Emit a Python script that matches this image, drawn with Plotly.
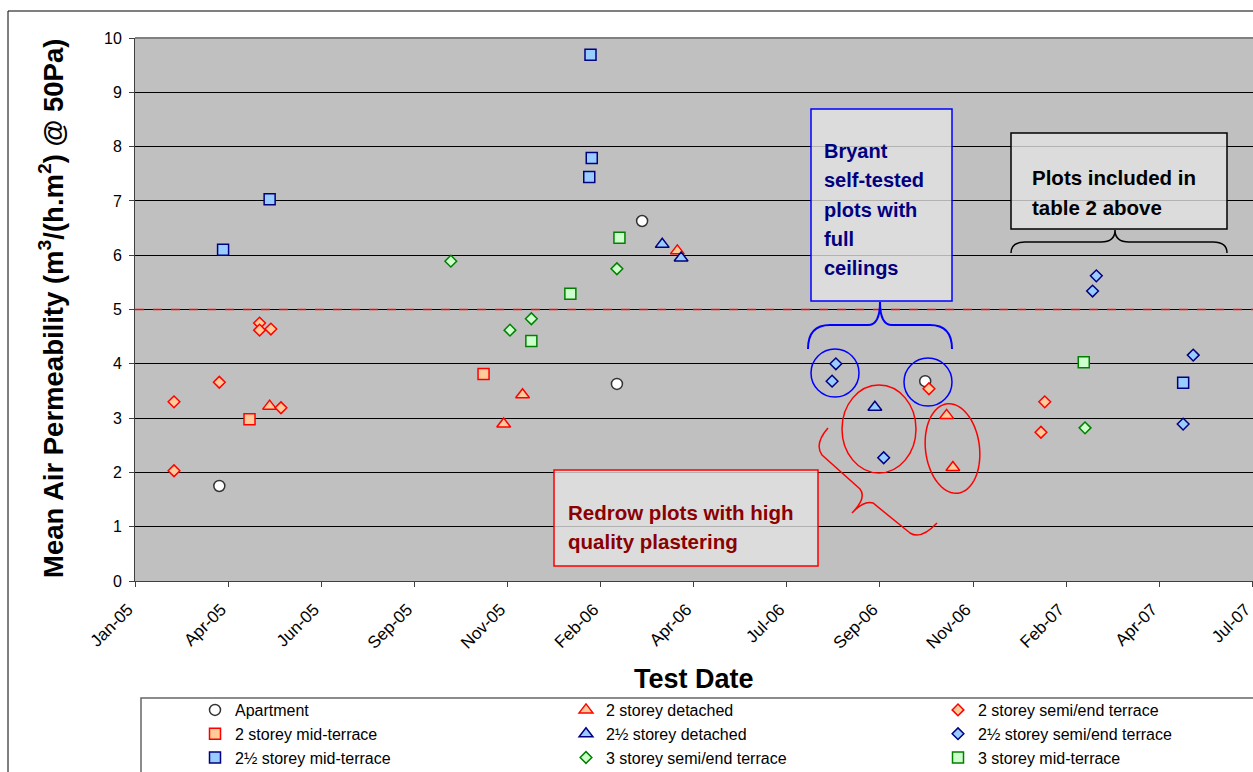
import numpy as np
import pandas as pd
import plotly.graph_objects as go

# ---------------- data ----------------
apartment_dates = ["2005-04-06", "2006-03-08", "2006-02-16", "2006-10-19"]
apartment_vals = [1.75, 6.63, 3.63, 3.68]

det2_dates = ["2005-05-16", "2006-04-05", "2005-12-03", "2005-11-18", "2006-11-05", "2006-11-10"]
det2_vals = [3.22, 6.08, 3.43, 2.89, 3.05, 2.09]

semi2_dates = ["2005-03-01", "2005-03-01", "2005-04-06", "2005-05-08", "2005-05-08",
               "2005-05-17", "2005-05-25", "2006-10-22", "2007-01-22", "2007-01-19"]
semi2_vals = [3.30, 2.03, 3.66, 4.75, 4.62, 4.64, 3.19, 3.54, 3.30, 2.74]

mid2_dates = ["2005-04-30", "2005-11-02"]
mid2_vals = [2.98, 3.81]

det25_dates = ["2006-03-24", "2006-04-08", "2006-09-09"]
det25_vals = [6.20, 5.95, 3.20]

semi25_dates = ["2006-08-09", "2006-08-06", "2006-09-16", "2007-03-04", "2007-03-01",
                "2007-05-20", "2007-05-12"]
semi25_vals = [4.00, 3.68, 2.27, 5.62, 5.34, 4.16, 2.89]

mid25_dates = ["2005-04-09", "2005-05-16", "2006-01-26", "2006-01-27", "2006-01-25", "2007-05-12"]
mid25_vals = [6.10, 7.03, 9.69, 7.79, 7.44, 3.65]

semi3_dates = ["2005-10-07", "2006-02-16", "2005-12-10", "2005-11-23", "2007-02-23"]
semi3_vals = [5.89, 5.75, 4.83, 4.62, 2.82]

mid3_dates = ["2006-02-18", "2006-01-10", "2005-12-10", "2007-02-22"]
mid3_vals = [6.32, 5.29, 4.42, 4.03]

threshold = 5

x_axis_start = "2005-01-29"
x_tick_step_days = 74
x_tick_count = 13

y_ticks = list(range(0, 11))

# ---------------- layout geometry (screen pixels) ----------------
FIG_W, FIG_H = 1253, 772
PLOT_L, PLOT_T, PLOT_B = 135, 38, 581
M_L, M_R, M_T = PLOT_L, 0, PLOT_T
M_B = FIG_H - PLOT_B
PW = FIG_W - M_L - M_R
PH = FIG_H - M_T - M_B


def px(x):
    return (x - PLOT_L) / PW


def py(y):
    return (PLOT_B - y) / PH


def P(x, y):
    return f"{px(x):.5f},{py(y):.5f}"


FONT = "Liberation Sans, Arial, sans-serif"

RED_FILL, RED_LINE = "#FFCC99", "#FF0000"
BLUE_FILL, BLUE_LINE = "#99CCFF", "#000080"
GREEN_FILL, GREEN_LINE = "#CCFFCC", "#008000"

series = [
    ("Apartment", apartment_dates, apartment_vals, "circle", 11, "#FFFFFF", "#333333", "legend"),
    ("2 storey mid-terrace", mid2_dates, mid2_vals, "square", 11, RED_FILL, RED_LINE, "legend"),
    ("2½ storey mid-terrace", mid25_dates, mid25_vals, "square", 11, BLUE_FILL, BLUE_LINE, "legend"),
    ("2 storey detached", det2_dates, det2_vals, "triangle-up", 12, RED_FILL, RED_LINE, "legend2"),
    ("2½ storey detached", det25_dates, det25_vals, "triangle-up", 12, BLUE_FILL, BLUE_LINE, "legend2"),
    ("3 storey semi/end terrace", semi3_dates, semi3_vals, "diamond", 9, GREEN_FILL, GREEN_LINE, "legend2"),
    ("2 storey semi/end terrace", semi2_dates, semi2_vals, "diamond", 9, RED_FILL, RED_LINE, "legend3"),
    ("2½ storey semi/end terrace", semi25_dates, semi25_vals, "diamond", 9, BLUE_FILL, BLUE_LINE, "legend3"),
    ("3 storey mid-terrace", mid3_dates, mid3_vals, "square", 11, GREEN_FILL, GREEN_LINE, "legend3"),
]

fig = go.Figure()
for name, xs, ys, sym, size, fill, line, leg in series:
    fig.add_trace(go.Scatter(
        x=pd.to_datetime(xs), y=ys, mode="markers", name=name, legend=leg,
        marker=dict(symbol=sym, size=size, color=fill, line=dict(color=line, width=1.5)),
    ))

x_start = pd.Timestamp(x_axis_start)
x_ticks = [x_start + pd.Timedelta(days=x_tick_step_days * k) for k in range(x_tick_count)]
x_end = x_ticks[-1] + pd.Timedelta(hours=12)

shapes = []
# outer chart border
shapes.append(dict(type="rect", xref="paper", yref="paper", x0=px(8), y0=py(11), x1=px(1300), y1=py(820),
                   line=dict(color="black", width=1), fillcolor="rgba(0,0,0,0)", layer="below"))
# legend box
shapes.append(dict(type="rect", xref="paper", yref="paper", x0=px(141), y0=py(698), x1=px(1300), y1=py(820),
                   line=dict(color="#666666", width=1.5), fillcolor="rgba(0,0,0,0)"))
# plot top border
shapes.append(dict(type="line", xref="paper", yref="paper", x0=0, x1=1, y0=1, y1=1,
                   line=dict(color="#808080", width=2)))
# threshold line
shapes.append(dict(type="line", xref="paper", yref="y", x0=0, x1=1, y0=threshold, y1=threshold,
                   line=dict(color="#FF0000", width=1.5, dash="dash")))

BOX_FILL = "rgba(228,228,228,0.78)"
# Bryant box
shapes.append(dict(type="rect", xref="paper", yref="paper", x0=px(811), x1=px(952), y0=py(109), y1=py(301),
                   line=dict(color="#0000FF", width=1.5), fillcolor=BOX_FILL))
# Redrow box
shapes.append(dict(type="rect", xref="paper", yref="paper", x0=px(554), x1=px(818), y0=py(470), y1=py(566),
                   line=dict(color="#FF0000", width=1.5), fillcolor=BOX_FILL))
# Table 2 box
shapes.append(dict(type="rect", xref="paper", yref="paper", x0=px(1011), x1=px(1227), y0=py(133), y1=py(229),
                   line=dict(color="#000000", width=1.5), fillcolor=BOX_FILL))

# braces
blue_brace = (f"M {P(808,349)} Q {P(808,325)} {P(830,325)} L {P(868,325)} Q {P(880,325)} {P(880,302)} "
              f"Q {P(880,325)} {P(892,325)} L {P(930,325)} Q {P(952,325)} {P(952,349)}")
shapes.append(dict(type="path", xref="paper", yref="paper", path=blue_brace,
                   line=dict(color="#0000FF", width=2)))
black_brace = (f"M {P(1011,253)} Q {P(1011,242)} {P(1025,242)} L {P(1101,242)} Q {P(1115,242)} {P(1115,230)} "
               f"Q {P(1115,242)} {P(1129,242)} L {P(1213,242)} Q {P(1227,242)} {P(1227,253)}")
shapes.append(dict(type="path", xref="paper", yref="paper", path=black_brace,
                   line=dict(color="#000000", width=1.5)))
red_brace = (f"M {P(828,428)} Q {P(814,444)} {P(822,455)} L {P(860,489)} Q {P(867,498)} {P(852,513)} "
             f"Q {P(864,500)} {P(873,503)} L {P(910,533)} Q {P(921,540)} {P(937,523)}")
shapes.append(dict(type="path", xref="paper", yref="paper", path=red_brace,
                   line=dict(color="#FF0000", width=1.5)))

# blue circles
for cx, cy, r in [(835, 373, 24), (928, 382, 24)]:
    shapes.append(dict(type="circle", xref="paper", yref="paper", x0=px(cx - r), x1=px(cx + r),
                       y0=py(cy - r), y1=py(cy + r), line=dict(color="#0000FF", width=1.5)))
# red ellipses
shapes.append(dict(type="circle", xref="paper", yref="paper", x0=px(842), x1=px(916),
                   y0=py(385), y1=py(473), line=dict(color="#FF0000", width=1.5)))


def ellipse_path(cx, cy, a, b, ang_deg, n=72):
    th = np.deg2rad(ang_deg)
    u = (np.sin(th), np.cos(th))
    v = (np.cos(th), -np.sin(th))
    pts = []
    for t in np.linspace(0, 2 * np.pi, n, endpoint=False):
        x = cx + a * np.cos(t) * u[0] + b * np.sin(t) * v[0]
        y = cy + a * np.cos(t) * u[1] + b * np.sin(t) * v[1]
        pts.append(P(x, y))
    return "M " + " L ".join(pts) + " Z"


shapes.append(dict(type="path", xref="paper", yref="paper", path=ellipse_path(952.5, 448.5, 45, 27, 7),
                   line=dict(color="#FF0000", width=1.5)))

annotations = []


def add_text(text, x, y, size, color, angle=0, xanchor="left"):
    annotations.append(dict(text=text, x=px(x), y=py(y), xref="paper", yref="paper", showarrow=False,
                            xanchor=xanchor, yanchor="middle", textangle=angle,
                            font=dict(family=FONT, size=size, color=color, weight="bold")))


for line, y in zip(["Bryant", "self-tested", "plots with", "full", "ceilings"], [151, 180, 210, 239, 268]):
    add_text(line, 822, y, 20, "#000080")
for line, y in zip(["Redrow plots with high", "quality plastering"], [512, 541]):
    add_text(line, 566, y, 20.5, "#8B0000")
for line, y in zip(["Plots included in", "table 2 above"], [177, 207]):
    add_text(line, 1030, y, 20.5, "#000000")

add_text("Mean Air Permeability (m<sup>3</sup>/(h.m<sup>2</sup>) @ 50Pa)", 52, 309, 27.5, "#000000",
         angle=-90, xanchor="center")
add_text("Test Date", 694, 679, 27, "#000000", xanchor="center")

leg_common = dict(yanchor="top", xanchor="left", bgcolor="rgba(0,0,0,0)", borderwidth=0,
                  font=dict(family=FONT, size=16, color="#000000"), itemwidth=30,
                  orientation="v", tracegroupgap=0)

fig.update_layout(
    width=FIG_W, height=FIG_H,
    margin=dict(l=M_L, r=M_R, t=M_T, b=M_B, autoexpand=False),
    paper_bgcolor="white", plot_bgcolor="#C0C0C0",
    font=dict(family=FONT, color="#000000"),
    showlegend=True,
    legend=dict(x=px(195), y=py(693), **leg_common),
    legend2=dict(x=px(566), y=py(693), **leg_common),
    legend3=dict(x=px(938), y=py(693), **leg_common),
    shapes=shapes,
    annotations=annotations,
    xaxis=dict(type="date", range=[x_start, x_end], tickvals=x_ticks, tickformat="%b-%y",
               tickangle=-45, ticks="outside", ticklen=5, tickcolor="#404040",
               ticklabeloverflow="allow", ticklabelshift=-7, ticklabelstandoff=6,
               showgrid=False, zeroline=False, showline=True, linecolor="#404040", linewidth=1,
               tickfont=dict(family=FONT, size=17, color="#000000"), automargin=False),
    yaxis=dict(range=[0, 10], tickvals=y_ticks, ticks="outside", ticklen=5, tickcolor="#404040",
               showgrid=True, gridcolor="#000000", gridwidth=1, zeroline=False,
               showline=True, linecolor="#404040", linewidth=1, ticklabelstandoff=4,
               tickfont=dict(family=FONT, size=16, color="#000000"), automargin=False),
)

fig.write_html(
    "out.html",
    config={"displayModeBar": False},
    post_script="document.body.style.margin='0';document.body.style.overflow='hidden';",
)
